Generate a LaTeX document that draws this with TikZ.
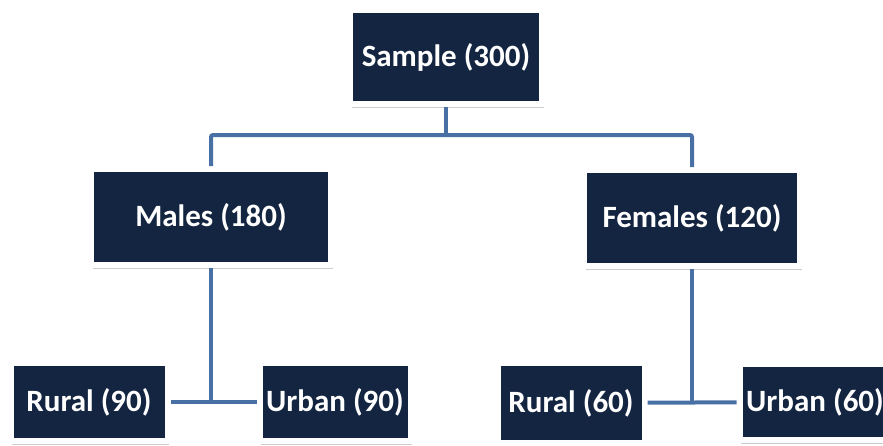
\documentclass[tikz,border=0pt]{standalone}
\usepackage{fontspec}
\setmainfont{Carlito}
\usetikzlibrary{shadows}
\definecolor{boxnavy}{RGB}{19,37,64}
\definecolor{linkblue}{RGB}{72,112,165}

\begin{document}
\begin{tikzpicture}[x=1pt, y=-1pt,
    box/.style={rectangle, fill=boxnavy, draw=white, line width=6pt,
        text=white, font=\fontsize{31}{36}\selectfont\bfseries,
        drop shadow={opacity=0.4, shadow xshift=1.5pt, shadow yshift=-3.5pt}},
    link/.style={draw=linkblue, line width=4pt}]
    \clip (0,0) rectangle (883,445);
    \useasboundingbox (0,0) rectangle (883,445);

    % Boxes
    \node[box, minimum width=192pt, minimum height=94pt] (sample) at (446,57) {Sample (300)};
    \node[box, minimum width=240pt, minimum height=96pt] (males) at (211,217) {Males (180)};
    \node[box, minimum width=216pt, minimum height=96pt] (females) at (692,218) {Females (120)};
    \node[box, minimum width=157pt, minimum height=78pt] (rural90) at (89,402) {Rural (90)};
    \node[box, minimum width=151pt, minimum height=78pt] (urban90) at (335,402) {Urban (90)};
    \node[box, minimum width=147pt, minimum height=80pt] (rural60) at (571,403) {Rural (60)};
    \node[box, minimum width=151pt, minimum height=76pt] (urban60) at (815,402) {Urban (60)};

    % Joints
    \coordinate (split) at (446,135);
    \coordinate (mjoin) at (211,402);
    \coordinate (fjoin) at (692,402);

    % Connectors
    \draw[link] (sample) -- (split);
    \draw[link, rounded corners=2pt] (split) -| (males);
    \draw[link, rounded corners=2pt] (split) -| (females);
    \draw[link] (males) -- (mjoin);
    \draw[link] (rural90) -- (urban90);
    \draw[link] (females) -- (fjoin);
    \draw[link] (rural60) -- (urban60);
\end{tikzpicture}
\end{document}
